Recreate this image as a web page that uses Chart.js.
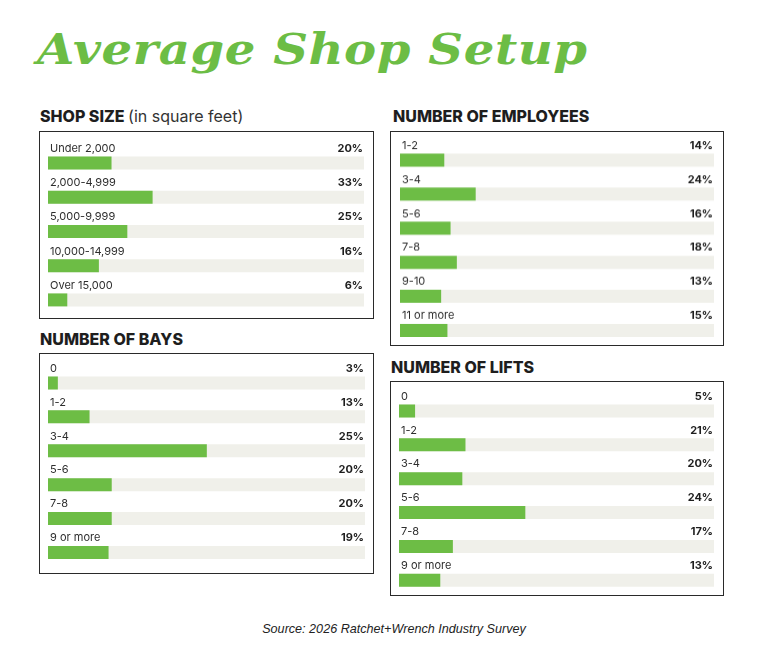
<!DOCTYPE html>
<html>
<head>
<meta charset="utf-8">
<script src="https://cdn.jsdelivr.net/npm/chart.js@4.4.1/dist/chart.umd.min.js"></script>
<style>
  html,body{margin:0;padding:0;background:#fff;}
  body{width:768px;height:670px;position:relative;overflow:hidden;font-family:Inter,"Noto Sans",sans-serif;}
  .title{position:absolute;left:37px;top:24px;font-family:"DejaVu Serif",serif;font-weight:bold;font-style:italic;font-size:43px;color:#6cbd45;white-space:nowrap;letter-spacing:0.5px;transform:scaleX(1.12);transform-origin:left top;}
  .head{position:absolute;font-size:16px;font-weight:800;color:#1e1e1e;white-space:nowrap;line-height:1;}
  .head span{font-weight:400;color:#333;}
  .box{position:absolute;border:1.8px solid #2a2a2a;box-sizing:border-box;}
  .cw{position:absolute;}
  .src{position:absolute;left:0;width:788px;top:622px;text-align:center;font-family:"Liberation Sans",Arial,sans-serif;font-style:italic;font-size:12.6px;color:#222;}
</style>
</head>
<body>
<div class="title">Average Shop Setup</div>

<div class="head" style="left:40px;top:108px;">SHOP SIZE <span>(in square feet)</span></div>
<div class="head" style="left:393px;top:108px;">NUMBER OF EMPLOYEES</div>
<div class="head" style="left:40px;top:331px;">NUMBER OF BAYS</div>
<div class="head" style="left:391px;top:359px;">NUMBER OF LIFTS</div>

<div class="box" style="left:39px;top:131px;width:335px;height:188px;"></div>
<div class="box" style="left:390px;top:131px;width:334px;height:215px;"></div>
<div class="box" style="left:39px;top:353px;width:335px;height:221px;"></div>
<div class="box" style="left:390px;top:381px;width:334px;height:215px;"></div>

<div class="cw" id="w1"><canvas id="c1"></canvas></div>
<div class="cw" id="w2"><canvas id="c2"></canvas></div>
<div class="cw" id="w3"><canvas id="c3"></canvas></div>
<div class="cw" id="w4"><canvas id="c4"></canvas></div>

<div class="src">Source: 2026 Ratchet+Wrench Industry Survey</div>

<script>
// ---- Data ----
const shopSizeCategories = ["Under 2,000", "2,000-4,999", "5,000-9,999", "10,000-14,999", "Over 15,000"];
const shopSizeValues = [20, 33, 25, 16, 6];
const shopSizeLabels = ["20%", "33%", "25%", "16%", "6%"];

const employeesCategories = ["1-2", "3-4", "5-6", "7-8", "9-10", "11 or more"];
const employeesValues = [14, 24, 16, 18, 13, 15];
const employeesLabels = ["14%", "24%", "16%", "18%", "13%", "15%"];

const baysCategories = ["0", "1-2", "3-4", "5-6", "7-8", "9 or more"];
// bar lengths as drawn in the picture (3-4 bar is drawn at about twice its label)
const baysValues = [3, 13, 50, 20, 20, 19];
const baysLabels = ["3%", "13%", "25%", "20%", "20%", "19%"];

const liftsCategories = ["0", "1-2", "3-4", "5-6", "7-8", "9 or more"];
// bar lengths as drawn in the picture (5-6 bar is drawn longer than its label)
const liftsValues = [5, 21, 20, 40, 17, 13];
const liftsLabels = ["5%", "21%", "20%", "24%", "17%", "13%"];

const scaleMax = 100;

// ---- Layout (px) ----
const panels = [
  {id:"1", cats:shopSizeCategories, vals:shopSizeValues, labs:shopSizeLabels, left:48, right:364, top:145.7, bottom:316.7},
  {id:"2", cats:employeesCategories, vals:employeesValues, labs:employeesLabels, left:400, right:714, top:143.4, bottom:346.8},
  {id:"3", cats:baysCategories, vals:baysValues, labs:baysLabels, left:48, right:365, top:365.9, bottom:569.3},
  {id:"4", cats:liftsCategories, vals:liftsValues, labs:liftsLabels, left:399, right:714, top:394.3, bottom:597.5}
];

const GREEN = "#6dbd45";
const TRACK = "#f0f0ea";
const PADL = 4, PADR = 4, PADT = 14, PADB = 2;

const labelPlugin = {
  id: "rowLabels",
  afterDatasetsDraw(chart) {
    const ctx = chart.ctx;
    const meta = chart.getDatasetMeta(0);
    const xs = chart.scales.x;
    const cats = chart.data.labels;
    const labs = chart.options.plugins.rowLabels.labels;
    ctx.save();
    ctx.textBaseline = "middle";
    meta.data.forEach((bar, i) => {
      const y = bar.y - 14.5;
      ctx.fillStyle = "#2e2e2e";
      ctx.font = "400 11px Inter, 'Noto Sans', sans-serif";
      ctx.textAlign = "left";
      ctx.fillText(cats[i], xs.getPixelForValue(0) + 2, y);
      ctx.font = "700 11px Inter, 'Noto Sans', sans-serif";
      ctx.fillStyle = "#1e1e1e";
      ctx.textAlign = "right";
      ctx.fillText(labs[i], xs.getPixelForValue(scaleMax) - 1, y);
    });
    ctx.restore();
  }
};

panels.forEach(p => {
  const w = document.getElementById("w" + p.id);
  w.style.left = (p.left - PADL) + "px";
  w.style.top = (p.top - PADT) + "px";
  w.style.width = (p.right - p.left + PADL + PADR) + "px";
  w.style.height = (p.bottom - p.top + PADT + PADB) + "px";
  new Chart(document.getElementById("c" + p.id), {
    type: "bar",
    data: {
      labels: p.cats,
      datasets: [
        {data: p.vals, backgroundColor: GREEN, barThickness: 12.3, grouped: false, order: 0, borderWidth: 0},
        {data: p.cats.map(() => scaleMax), backgroundColor: TRACK, barThickness: 12.3, grouped: false, order: 1, borderWidth: 0}
      ]
    },
    options: {
      indexAxis: "y",
      responsive: true,
      maintainAspectRatio: false,
      animation: false,
      layout: {padding: {left: PADL, right: PADR, top: PADT, bottom: PADB}},
      scales: {
        x: {display: false, min: 0, max: scaleMax},
        y: {display: false}
      },
      plugins: {
        legend: {display: false},
        tooltip: {enabled: false},
        rowLabels: {labels: p.labs}
      }
    },
    plugins: [labelPlugin]
  });
});
</script>
</body>
</html>
